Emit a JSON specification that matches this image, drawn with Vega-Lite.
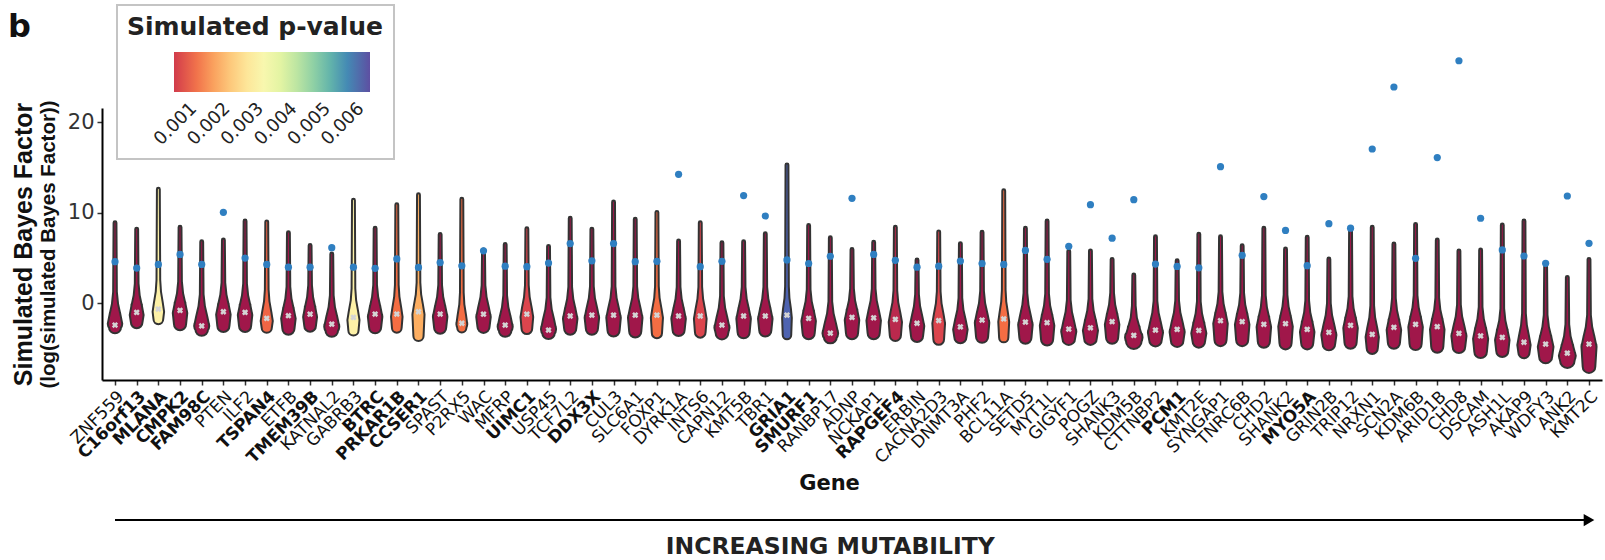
{
"$schema": "https://vega.github.io/schema/vega-lite/v6.json",
"width": 1500, "height": 272,
"autosize": {"type": "none"},
"padding": {"left": 102, "top": 108, "right": 3, "bottom": 180},
"background": "white",
"config": {"view": {"stroke": null}, "font": "Liberation Sans"},
"datasets": {
"genes": [
{"g":"ZNF559","p":0.00032,"m":-2.4,"o":4.6},{"g":"C16orf13","p":0.00032,"m":-1.0,"o":3.9},{"g":"MLANA","p":0.003,"m":-0.63,"o":4.3},{"g":"CMPK2","p":0.00032,"m":-0.78,"o":5.4},{"g":"FAM98C","p":0.00032,"m":-2.5,"o":4.3},{"g":"PTEN","p":0.00032,"m":-0.93,"o":10.05},{"g":"ILF2","p":0.00032,"m":-1.0,"o":5.0},{"g":"TSPAN4","p":0.0014,"m":-1.66,"o":4.3},{"g":"ETFB","p":0.00032,"m":-1.37,"o":4.0},{"g":"TMEM39B","p":0.00032,"m":-1.2,"o":4.0},{"g":"KATNAL2","p":0.00032,"m":-2.3,"o":6.15},{"g":"GABRB3","p":0.003,"m":-1.55,"o":4.0},{"g":"BTRC","p":0.00032,"m":-1.18,"o":3.87},{"g":"PRKAR1B","p":0.0015,"m":-1.18,"o":4.9},{"g":"CCSER1","p":0.0021,"m":-0.93,"o":3.97},{"g":"SPAST","p":0.00032,"m":-1.18,"o":4.5},{"g":"P2RX5","p":0.0015,"m":-2.2,"o":4.15},{"g":"WAC","p":0.00032,"m":-1.2,"o":5.8},{"g":"MFRP","p":0.00032,"m":-2.4,"o":4.1},{"g":"UIMC1","p":0.001,"m":-1.2,"o":4.05},{"g":"USP45","p":0.00032,"m":-2.95,"o":4.45},{"g":"TCF7L2","p":0.00032,"m":-1.4,"o":6.6},{"g":"DDX3X","p":0.00032,"m":-1.3,"o":4.7},{"g":"CUL3","p":0.00032,"m":-1.3,"o":6.6},{"g":"SLC6A1","p":0.00032,"m":-1.3,"o":4.6},{"g":"FOXP1","p":0.0015,"m":-1.3,"o":4.64},{"g":"DYRK1A","p":0.00032,"m":-1.4,"o":14.25},{"g":"INTS6","p":0.001,"m":-1.4,"o":4.05},{"g":"CAPN12","p":0.00032,"m":-2.4,"o":4.64},{"g":"KMT5B","p":0.00032,"m":-1.4,"o":11.9},{"g":"TBR1","p":0.00032,"m":-1.4,"o":9.65},{"g":"GRIA1","p":0.006,"m":-1.3,"o":4.8},{"g":"SMURF1","p":0.00032,"m":-1.66,"o":4.4},{"g":"RANBP17","p":0.00032,"m":-3.3,"o":5.2},{"g":"ADNP","p":0.00032,"m":-1.55,"o":11.6},{"g":"NCKAP1","p":0.00032,"m":-1.6,"o":5.4},{"g":"RAPGEF4","p":0.0006,"m":-1.77,"o":4.75},{"g":"ERBIN","p":0.00032,"m":-2.2,"o":4.0},{"g":"CACNA2D3","p":0.001,"m":-1.9,"o":4.1},{"g":"DNMT3A","p":0.00032,"m":-2.6,"o":4.67},{"g":"PHF2","p":0.00032,"m":-1.85,"o":4.4},{"g":"BCL11A","p":0.0015,"m":-1.73,"o":4.3},{"g":"SETD5","p":0.00032,"m":-2.07,"o":5.85},{"g":"MYT1L","p":0.00032,"m":-2.14,"o":4.86},{"g":"GIGYF1","p":0.00032,"m":-2.84,"o":6.3},{"g":"POGZ","p":0.00032,"m":-2.7,"o":10.9},{"g":"SHANK3","p":0.00032,"m":-2.03,"o":7.2},{"g":"KDM5B","p":0.00032,"m":-3.54,"o":11.45},{"g":"CTTNBP2","p":0.00032,"m":-2.95,"o":4.34},{"g":"PCM1","p":0.00032,"m":-2.88,"o":4.08},{"g":"KMT2E","p":0.00032,"m":-3.0,"o":3.92},{"g":"SYNGAP1","p":0.00032,"m":-1.92,"o":15.1},{"g":"TNRC6B","p":0.00032,"m":-2.03,"o":5.3},{"g":"CHD2","p":0.00032,"m":-2.32,"o":11.8},{"g":"SHANK2","p":0.00032,"m":-2.25,"o":8.06},{"g":"MYO5A","p":0.00032,"m":-2.88,"o":4.16},{"g":"GRIN2B","p":0.00032,"m":-3.2,"o":8.8},{"g":"TRIP12","p":0.00032,"m":-2.43,"o":8.3},{"g":"NRXN1","p":0.00032,"m":-3.43,"o":17.05},{"g":"SCN2A","p":0.00032,"m":-2.65,"o":23.9},{"g":"KDM6B","p":0.00032,"m":-2.32,"o":4.97},{"g":"ARID1B","p":0.00032,"m":-2.58,"o":16.1},{"g":"CHD8","p":0.00032,"m":-3.32,"o":26.8},{"g":"DSCAM","p":0.00032,"m":-3.6,"o":9.4},{"g":"ASH1L","p":0.00032,"m":-3.76,"o":5.9},{"g":"AKAP9","p":0.00032,"m":-4.3,"o":5.23},{"g":"WDFY3","p":0.00032,"m":-4.5,"o":4.42},{"g":"ANK2","p":0.00032,"m":-5.5,"o":11.86},{"g":"KMT2C","p":0.00032,"m":-4.5,"o":6.63}
],
"violins": [
{"g":"ZNF559","y":-2.65,"w":0.8},{"g":"ZNF559","y":-2.25,"w":1},{"g":"ZNF559","y":-1.25,"w":0.7},{"g":"ZNF559","y":-0.05,"w":0.3},{"g":"ZNF559","y":1.25,"w":0.1},{"g":"ZNF559","y":8.9,"w":0.03},
{"g":"C16orf13","y":-2.1,"w":0.76},{"g":"C16orf13","y":-1.3,"w":0.95},{"g":"C16orf13","y":-0.3,"w":0.67},{"g":"C16orf13","y":0.9,"w":0.29},{"g":"C16orf13","y":2.2,"w":0.1},{"g":"C16orf13","y":8.2,"w":0.03},
{"g":"MLANA","y":-1.77,"w":0.6},{"g":"MLANA","y":-0.93,"w":0.75},{"g":"MLANA","y":0.07,"w":0.53},{"g":"MLANA","y":1.27,"w":0.23},{"g":"MLANA","y":2.57,"w":0.1},{"g":"MLANA","y":12.6,"w":0.03},
{"g":"CMPK2","y":-2.3,"w":0.8},{"g":"CMPK2","y":-1.08,"w":1},{"g":"CMPK2","y":-0.08,"w":0.7},{"g":"CMPK2","y":1.12,"w":0.3},{"g":"CMPK2","y":2.42,"w":0.1},{"g":"CMPK2","y":8.4,"w":0.03},
{"g":"FAM98C","y":-2.9,"w":0.84},{"g":"FAM98C","y":-2.5,"w":1.05},{"g":"FAM98C","y":-1.5,"w":0.74},{"g":"FAM98C","y":-0.3,"w":0.32},{"g":"FAM98C","y":1.0,"w":0.1},{"g":"FAM98C","y":6.8,"w":0.03},
{"g":"PTEN","y":-2.5,"w":0.8},{"g":"PTEN","y":-1.23,"w":1},{"g":"PTEN","y":-0.23,"w":0.7},{"g":"PTEN","y":0.97,"w":0.3},{"g":"PTEN","y":2.27,"w":0.1},{"g":"PTEN","y":7.0,"w":0.03},
{"g":"ILF2","y":-2.5,"w":0.8},{"g":"ILF2","y":-1.3,"w":1},{"g":"ILF2","y":-0.3,"w":0.7},{"g":"ILF2","y":0.9,"w":0.3},{"g":"ILF2","y":2.2,"w":0.1},{"g":"ILF2","y":9.1,"w":0.03},
{"g":"TSPAN4","y":-2.7,"w":0.64},{"g":"TSPAN4","y":-1.96,"w":0.8},{"g":"TSPAN4","y":-0.96,"w":0.56},{"g":"TSPAN4","y":0.24,"w":0.24},{"g":"TSPAN4","y":1.54,"w":0.1},{"g":"TSPAN4","y":9.0,"w":0.03},
{"g":"ETFB","y":-2.8,"w":0.8},{"g":"ETFB","y":-1.67,"w":1},{"g":"ETFB","y":-0.67,"w":0.7},{"g":"ETFB","y":0.53,"w":0.3},{"g":"ETFB","y":1.83,"w":0.1},{"g":"ETFB","y":7.8,"w":0.03},
{"g":"TMEM39B","y":-2.5,"w":0.76},{"g":"TMEM39B","y":-1.5,"w":0.95},{"g":"TMEM39B","y":-0.5,"w":0.67},{"g":"TMEM39B","y":0.7,"w":0.29},{"g":"TMEM39B","y":2.0,"w":0.1},{"g":"TMEM39B","y":6.4,"w":0.03},
{"g":"KATNAL2","y":-3.0,"w":0.84},{"g":"KATNAL2","y":-2.6,"w":1.05},{"g":"KATNAL2","y":-1.6,"w":0.74},{"g":"KATNAL2","y":-0.4,"w":0.32},{"g":"KATNAL2","y":0.9,"w":0.1},{"g":"KATNAL2","y":5.45,"w":0.03},
{"g":"GABRB3","y":-3.0,"w":0.64},{"g":"GABRB3","y":-1.85,"w":0.8},{"g":"GABRB3","y":-0.85,"w":0.56},{"g":"GABRB3","y":0.35,"w":0.24},{"g":"GABRB3","y":1.65,"w":0.1},{"g":"GABRB3","y":11.4,"w":0.03},
{"g":"BTRC","y":-2.65,"w":0.8},{"g":"BTRC","y":-1.48,"w":1},{"g":"BTRC","y":-0.48,"w":0.7},{"g":"BTRC","y":0.72,"w":0.3},{"g":"BTRC","y":2.02,"w":0.1},{"g":"BTRC","y":8.3,"w":0.03},
{"g":"PRKAR1B","y":-2.7,"w":0.6},{"g":"PRKAR1B","y":-1.48,"w":0.75},{"g":"PRKAR1B","y":-0.48,"w":0.53},{"g":"PRKAR1B","y":0.72,"w":0.23},{"g":"PRKAR1B","y":2.02,"w":0.1},{"g":"PRKAR1B","y":10.9,"w":0.03},
{"g":"CCSER1","y":-3.6,"w":0.64},{"g":"CCSER1","y":-1.23,"w":0.8},{"g":"CCSER1","y":-0.23,"w":0.56},{"g":"CCSER1","y":0.97,"w":0.24},{"g":"CCSER1","y":2.27,"w":0.1},{"g":"CCSER1","y":12.0,"w":0.03},
{"g":"SPAST","y":-2.7,"w":0.8},{"g":"SPAST","y":-1.48,"w":1},{"g":"SPAST","y":-0.48,"w":0.7},{"g":"SPAST","y":0.72,"w":0.3},{"g":"SPAST","y":2.02,"w":0.1},{"g":"SPAST","y":7.6,"w":0.03},
{"g":"P2RX5","y":-2.7,"w":0.56},{"g":"P2RX5","y":-2.3,"w":0.7},{"g":"P2RX5","y":-1.3,"w":0.49},{"g":"P2RX5","y":-0.1,"w":0.21},{"g":"P2RX5","y":1.2,"w":0.1},{"g":"P2RX5","y":11.5,"w":0.03},
{"g":"WAC","y":-2.6,"w":0.8},{"g":"WAC","y":-1.5,"w":1},{"g":"WAC","y":-0.5,"w":0.7},{"g":"WAC","y":0.7,"w":0.3},{"g":"WAC","y":2.0,"w":0.1},{"g":"WAC","y":5.9,"w":0.03},
{"g":"MFRP","y":-3.0,"w":0.84},{"g":"MFRP","y":-2.6,"w":1.05},{"g":"MFRP","y":-1.6,"w":0.74},{"g":"MFRP","y":-0.4,"w":0.32},{"g":"MFRP","y":0.9,"w":0.1},{"g":"MFRP","y":6.5,"w":0.03},
{"g":"UIMC1","y":-2.8,"w":0.68},{"g":"UIMC1","y":-1.5,"w":0.85},{"g":"UIMC1","y":-0.5,"w":0.6},{"g":"UIMC1","y":0.7,"w":0.26},{"g":"UIMC1","y":2.0,"w":0.1},{"g":"UIMC1","y":8.25,"w":0.03},
{"g":"USP45","y":-3.25,"w":0.84},{"g":"USP45","y":-2.85,"w":1.05},{"g":"USP45","y":-1.85,"w":0.74},{"g":"USP45","y":-0.65,"w":0.32},{"g":"USP45","y":0.65,"w":0.1},{"g":"USP45","y":6.3,"w":0.03},
{"g":"TCF7L2","y":-2.8,"w":0.8},{"g":"TCF7L2","y":-1.7,"w":1},{"g":"TCF7L2","y":-0.7,"w":0.7},{"g":"TCF7L2","y":0.5,"w":0.3},{"g":"TCF7L2","y":1.8,"w":0.1},{"g":"TCF7L2","y":9.4,"w":0.03},
{"g":"DDX3X","y":-2.8,"w":0.8},{"g":"DDX3X","y":-1.6,"w":1},{"g":"DDX3X","y":-0.6,"w":0.7},{"g":"DDX3X","y":0.6,"w":0.3},{"g":"DDX3X","y":1.9,"w":0.1},{"g":"DDX3X","y":8.2,"w":0.03},
{"g":"CUL3","y":-3.0,"w":0.8},{"g":"CUL3","y":-1.6,"w":1},{"g":"CUL3","y":-0.6,"w":0.7},{"g":"CUL3","y":0.6,"w":0.3},{"g":"CUL3","y":1.9,"w":0.1},{"g":"CUL3","y":11.2,"w":0.03},
{"g":"SLC6A1","y":-3.1,"w":0.8},{"g":"SLC6A1","y":-1.6,"w":1},{"g":"SLC6A1","y":-0.6,"w":0.7},{"g":"SLC6A1","y":0.6,"w":0.3},{"g":"SLC6A1","y":1.9,"w":0.1},{"g":"SLC6A1","y":9.3,"w":0.03},
{"g":"FOXP1","y":-3.3,"w":0.64},{"g":"FOXP1","y":-1.6,"w":0.8},{"g":"FOXP1","y":-0.6,"w":0.56},{"g":"FOXP1","y":0.6,"w":0.24},{"g":"FOXP1","y":1.9,"w":0.1},{"g":"FOXP1","y":10.05,"w":0.03},
{"g":"DYRK1A","y":-2.95,"w":0.8},{"g":"DYRK1A","y":-1.7,"w":1},{"g":"DYRK1A","y":-0.7,"w":0.7},{"g":"DYRK1A","y":0.5,"w":0.3},{"g":"DYRK1A","y":1.8,"w":0.1},{"g":"DYRK1A","y":6.9,"w":0.03},
{"g":"INTS6","y":-3.2,"w":0.68},{"g":"INTS6","y":-1.7,"w":0.85},{"g":"INTS6","y":-0.7,"w":0.6},{"g":"INTS6","y":0.5,"w":0.26},{"g":"INTS6","y":1.8,"w":0.1},{"g":"INTS6","y":8.9,"w":0.03},
{"g":"CAPN12","y":-3.3,"w":0.84},{"g":"CAPN12","y":-2.7,"w":1.05},{"g":"CAPN12","y":-1.7,"w":0.74},{"g":"CAPN12","y":-0.5,"w":0.32},{"g":"CAPN12","y":0.8,"w":0.1},{"g":"CAPN12","y":6.7,"w":0.03},
{"g":"KMT5B","y":-3.2,"w":0.8},{"g":"KMT5B","y":-1.7,"w":1},{"g":"KMT5B","y":-0.7,"w":0.7},{"g":"KMT5B","y":0.5,"w":0.3},{"g":"KMT5B","y":1.8,"w":0.1},{"g":"KMT5B","y":6.8,"w":0.03},
{"g":"TBR1","y":-3.0,"w":0.8},{"g":"TBR1","y":-1.7,"w":1},{"g":"TBR1","y":-0.7,"w":0.7},{"g":"TBR1","y":0.5,"w":0.3},{"g":"TBR1","y":1.8,"w":0.1},{"g":"TBR1","y":7.7,"w":0.03},
{"g":"GRIA1","y":-3.5,"w":0.5},{"g":"GRIA1","y":-1.6,"w":0.6},{"g":"GRIA1","y":-0.6,"w":0.45},{"g":"GRIA1","y":0.6,"w":0.2},{"g":"GRIA1","y":1.9,"w":0.1},{"g":"GRIA1","y":15.3,"w":0.03},
{"g":"SMURF1","y":-3.3,"w":0.8},{"g":"SMURF1","y":-1.96,"w":1},{"g":"SMURF1","y":-0.96,"w":0.7},{"g":"SMURF1","y":0.24,"w":0.3},{"g":"SMURF1","y":1.54,"w":0.1},{"g":"SMURF1","y":8.6,"w":0.03},
{"g":"RANBP17","y":-3.7,"w":0.88},{"g":"RANBP17","y":-3.3,"w":1.1},{"g":"RANBP17","y":-2.3,"w":0.77},{"g":"RANBP17","y":-1.1,"w":0.33},{"g":"RANBP17","y":0.2,"w":0.1},{"g":"RANBP17","y":7.25,"w":0.03},
{"g":"ADNP","y":-3.3,"w":0.8},{"g":"ADNP","y":-1.85,"w":1},{"g":"ADNP","y":-0.85,"w":0.7},{"g":"ADNP","y":0.35,"w":0.3},{"g":"ADNP","y":1.65,"w":0.1},{"g":"ADNP","y":5.95,"w":0.03},
{"g":"NCKAP1","y":-3.3,"w":0.8},{"g":"NCKAP1","y":-1.9,"w":1},{"g":"NCKAP1","y":-0.9,"w":0.7},{"g":"NCKAP1","y":0.3,"w":0.3},{"g":"NCKAP1","y":1.6,"w":0.1},{"g":"NCKAP1","y":6.75,"w":0.03},
{"g":"RAPGEF4","y":-3.55,"w":0.72},{"g":"RAPGEF4","y":-2.07,"w":0.9},{"g":"RAPGEF4","y":-1.07,"w":0.63},{"g":"RAPGEF4","y":0.13,"w":0.27},{"g":"RAPGEF4","y":1.43,"w":0.1},{"g":"RAPGEF4","y":8.4,"w":0.03},
{"g":"ERBIN","y":-3.6,"w":0.8},{"g":"ERBIN","y":-2.5,"w":1},{"g":"ERBIN","y":-1.5,"w":0.7},{"g":"ERBIN","y":-0.3,"w":0.3},{"g":"ERBIN","y":1.0,"w":0.1},{"g":"ERBIN","y":4.8,"w":0.03},
{"g":"CACNA2D3","y":-4.0,"w":0.68},{"g":"CACNA2D3","y":-2.2,"w":0.85},{"g":"CACNA2D3","y":-1.2,"w":0.6},{"g":"CACNA2D3","y":0.0,"w":0.26},{"g":"CACNA2D3","y":1.3,"w":0.1},{"g":"CACNA2D3","y":7.9,"w":0.03},
{"g":"DNMT3A","y":-3.75,"w":0.8},{"g":"DNMT3A","y":-2.9,"w":1},{"g":"DNMT3A","y":-1.9,"w":0.7},{"g":"DNMT3A","y":-0.7,"w":0.3},{"g":"DNMT3A","y":0.6,"w":0.1},{"g":"DNMT3A","y":6.6,"w":0.03},
{"g":"PHF2","y":-3.7,"w":0.8},{"g":"PHF2","y":-2.15,"w":1},{"g":"PHF2","y":-1.15,"w":0.7},{"g":"PHF2","y":0.05,"w":0.3},{"g":"PHF2","y":1.35,"w":0.1},{"g":"PHF2","y":7.85,"w":0.03},
{"g":"BCL11A","y":-3.8,"w":0.56},{"g":"BCL11A","y":-2.03,"w":0.7},{"g":"BCL11A","y":-1.03,"w":0.49},{"g":"BCL11A","y":0.17,"w":0.21},{"g":"BCL11A","y":1.47,"w":0.1},{"g":"BCL11A","y":12.45,"w":0.03},
{"g":"SETD5","y":-3.8,"w":0.8},{"g":"SETD5","y":-2.37,"w":1},{"g":"SETD5","y":-1.37,"w":0.7},{"g":"SETD5","y":-0.17,"w":0.3},{"g":"SETD5","y":1.13,"w":0.1},{"g":"SETD5","y":8.3,"w":0.03},
{"g":"MYT1L","y":-4.0,"w":0.8},{"g":"MYT1L","y":-2.44,"w":1},{"g":"MYT1L","y":-1.44,"w":0.7},{"g":"MYT1L","y":-0.24,"w":0.3},{"g":"MYT1L","y":1.06,"w":0.1},{"g":"MYT1L","y":9.1,"w":0.03},
{"g":"GIGYF1","y":-3.9,"w":0.84},{"g":"GIGYF1","y":-3.14,"w":1.05},{"g":"GIGYF1","y":-2.14,"w":0.74},{"g":"GIGYF1","y":-0.94,"w":0.32},{"g":"GIGYF1","y":0.36,"w":0.1},{"g":"GIGYF1","y":5.75,"w":0.03},
{"g":"POGZ","y":-3.9,"w":0.84},{"g":"POGZ","y":-3.0,"w":1.05},{"g":"POGZ","y":-2.0,"w":0.74},{"g":"POGZ","y":-0.8,"w":0.32},{"g":"POGZ","y":0.5,"w":0.1},{"g":"POGZ","y":5.8,"w":0.03},
{"g":"SHANK3","y":-3.8,"w":0.8},{"g":"SHANK3","y":-2.33,"w":1},{"g":"SHANK3","y":-1.33,"w":0.7},{"g":"SHANK3","y":-0.13,"w":0.3},{"g":"SHANK3","y":1.17,"w":0.1},{"g":"SHANK3","y":4.86,"w":0.03},
{"g":"KDM5B","y":-4.17,"w":1.1},{"g":"KDM5B","y":-3.77,"w":1.25},{"g":"KDM5B","y":-2.77,"w":0.8},{"g":"KDM5B","y":-1.57,"w":0.3},{"g":"KDM5B","y":-0.27,"w":0.1},{"g":"KDM5B","y":3.13,"w":0.03},
{"g":"CTTNBP2","y":-4.06,"w":0.84},{"g":"CTTNBP2","y":-3.25,"w":1.05},{"g":"CTTNBP2","y":-2.25,"w":0.74},{"g":"CTTNBP2","y":-1.05,"w":0.32},{"g":"CTTNBP2","y":0.25,"w":0.1},{"g":"CTTNBP2","y":7.36,"w":0.03},
{"g":"PCM1","y":-4.13,"w":0.84},{"g":"PCM1","y":-3.18,"w":1.05},{"g":"PCM1","y":-2.18,"w":0.74},{"g":"PCM1","y":-0.98,"w":0.32},{"g":"PCM1","y":0.32,"w":0.1},{"g":"PCM1","y":4.7,"w":0.03},
{"g":"KMT2E","y":-4.2,"w":0.84},{"g":"KMT2E","y":-3.3,"w":1.05},{"g":"KMT2E","y":-2.3,"w":0.74},{"g":"KMT2E","y":-1.1,"w":0.32},{"g":"KMT2E","y":0.2,"w":0.1},{"g":"KMT2E","y":7.65,"w":0.03},
{"g":"SYNGAP1","y":-4.06,"w":0.8},{"g":"SYNGAP1","y":-2.22,"w":1},{"g":"SYNGAP1","y":-1.22,"w":0.7},{"g":"SYNGAP1","y":-0.02,"w":0.3},{"g":"SYNGAP1","y":1.28,"w":0.1},{"g":"SYNGAP1","y":7.36,"w":0.03},
{"g":"TNRC6B","y":-4.06,"w":0.8},{"g":"TNRC6B","y":-2.33,"w":1},{"g":"TNRC6B","y":-1.33,"w":0.7},{"g":"TNRC6B","y":-0.13,"w":0.3},{"g":"TNRC6B","y":1.17,"w":0.1},{"g":"TNRC6B","y":6.37,"w":0.03},
{"g":"CHD2","y":-4.24,"w":0.8},{"g":"CHD2","y":-2.62,"w":1},{"g":"CHD2","y":-1.62,"w":0.7},{"g":"CHD2","y":-0.42,"w":0.3},{"g":"CHD2","y":0.88,"w":0.1},{"g":"CHD2","y":8.3,"w":0.03},
{"g":"SHANK2","y":-4.42,"w":0.8},{"g":"SHANK2","y":-2.55,"w":1},{"g":"SHANK2","y":-1.55,"w":0.7},{"g":"SHANK2","y":-0.35,"w":0.3},{"g":"SHANK2","y":0.95,"w":0.1},{"g":"SHANK2","y":6.0,"w":0.03},
{"g":"MYO5A","y":-4.42,"w":0.8},{"g":"MYO5A","y":-3.18,"w":1},{"g":"MYO5A","y":-2.18,"w":0.7},{"g":"MYO5A","y":-0.98,"w":0.3},{"g":"MYO5A","y":0.32,"w":0.1},{"g":"MYO5A","y":7.3,"w":0.03},
{"g":"GRIN2B","y":-4.5,"w":0.84},{"g":"GRIN2B","y":-3.5,"w":1.05},{"g":"GRIN2B","y":-2.5,"w":0.74},{"g":"GRIN2B","y":-1.3,"w":0.32},{"g":"GRIN2B","y":0.0,"w":0.1},{"g":"GRIN2B","y":4.9,"w":0.03},
{"g":"TRIP12","y":-4.35,"w":0.8},{"g":"TRIP12","y":-2.73,"w":1},{"g":"TRIP12","y":-1.73,"w":0.7},{"g":"TRIP12","y":-0.53,"w":0.3},{"g":"TRIP12","y":0.77,"w":0.1},{"g":"TRIP12","y":8.17,"w":0.03},
{"g":"NRXN1","y":-4.97,"w":0.72},{"g":"NRXN1","y":-3.73,"w":0.9},{"g":"NRXN1","y":-2.73,"w":0.63},{"g":"NRXN1","y":-1.53,"w":0.27},{"g":"NRXN1","y":-0.23,"w":0.1},{"g":"NRXN1","y":8.4,"w":0.03},
{"g":"SCN2A","y":-4.35,"w":0.8},{"g":"SCN2A","y":-2.95,"w":1},{"g":"SCN2A","y":-1.95,"w":0.7},{"g":"SCN2A","y":-0.75,"w":0.3},{"g":"SCN2A","y":0.55,"w":0.1},{"g":"SCN2A","y":6.55,"w":0.03},
{"g":"KDM6B","y":-4.5,"w":0.8},{"g":"KDM6B","y":-2.62,"w":1},{"g":"KDM6B","y":-1.62,"w":0.7},{"g":"KDM6B","y":-0.42,"w":0.3},{"g":"KDM6B","y":0.88,"w":0.1},{"g":"KDM6B","y":8.73,"w":0.03},
{"g":"ARID1B","y":-4.8,"w":0.8},{"g":"ARID1B","y":-2.88,"w":1},{"g":"ARID1B","y":-1.88,"w":0.7},{"g":"ARID1B","y":-0.68,"w":0.3},{"g":"ARID1B","y":0.62,"w":0.1},{"g":"ARID1B","y":7.0,"w":0.03},
{"g":"CHD8","y":-4.8,"w":0.84},{"g":"CHD8","y":-3.62,"w":1.05},{"g":"CHD8","y":-2.62,"w":0.74},{"g":"CHD8","y":-1.42,"w":0.32},{"g":"CHD8","y":-0.12,"w":0.1},{"g":"CHD8","y":5.8,"w":0.03},
{"g":"DSCAM","y":-5.35,"w":0.84},{"g":"DSCAM","y":-3.9,"w":1.05},{"g":"DSCAM","y":-2.9,"w":0.74},{"g":"DSCAM","y":-1.7,"w":0.32},{"g":"DSCAM","y":-0.4,"w":0.1},{"g":"DSCAM","y":5.9,"w":0.03},
{"g":"ASH1L","y":-5.27,"w":0.8},{"g":"ASH1L","y":-4.06,"w":1},{"g":"ASH1L","y":-3.06,"w":0.7},{"g":"ASH1L","y":-1.86,"w":0.3},{"g":"ASH1L","y":-0.56,"w":0.1},{"g":"ASH1L","y":8.65,"w":0.03},
{"g":"AKAP9","y":-5.45,"w":0.72},{"g":"AKAP9","y":-4.6,"w":0.9},{"g":"AKAP9","y":-3.6,"w":0.63},{"g":"AKAP9","y":-2.4,"w":0.27},{"g":"AKAP9","y":-1.1,"w":0.1},{"g":"AKAP9","y":9.1,"w":0.03},
{"g":"WDFY3","y":-5.9,"w":0.88},{"g":"WDFY3","y":-4.8,"w":1.1},{"g":"WDFY3","y":-3.8,"w":0.77},{"g":"WDFY3","y":-2.6,"w":0.33},{"g":"WDFY3","y":-1.3,"w":0.1},{"g":"WDFY3","y":4.05,"w":0.03},
{"g":"ANK2","y":-6.34,"w":1.0},{"g":"ANK2","y":-5.8,"w":1.2},{"g":"ANK2","y":-4.8,"w":0.8},{"g":"ANK2","y":-3.6,"w":0.33},{"g":"ANK2","y":-2.3,"w":0.1},{"g":"ANK2","y":2.87,"w":0.03},
{"g":"KMT2C","y":-7.0,"w":0.84},{"g":"KMT2C","y":-4.8,"w":1.05},{"g":"KMT2C","y":-3.8,"w":0.74},{"g":"KMT2C","y":-2.6,"w":0.32},{"g":"KMT2C","y":-1.3,"w":0.1},{"g":"KMT2C","y":4.86,"w":0.03}
]
},
"encoding": {
"x": {"field": "g", "type": "nominal", "title": "Gene",
"scale": {"type": "point", "padding": 0.6, "domain": ["ZNF559","C16orf13","MLANA","CMPK2","FAM98C","PTEN","ILF2","TSPAN4","ETFB","TMEM39B","KATNAL2","GABRB3","BTRC","PRKAR1B","CCSER1","SPAST","P2RX5","WAC","MFRP","UIMC1","USP45","TCF7L2","DDX3X","CUL3","SLC6A1","FOXP1","DYRK1A","INTS6","CAPN12","KMT5B","TBR1","GRIA1","SMURF1","RANBP17","ADNP","NCKAP1","RAPGEF4","ERBIN","CACNA2D3","DNMT3A","PHF2","BCL11A","SETD5","MYT1L","GIGYF1","POGZ","SHANK3","KDM5B","CTTNBP2","PCM1","KMT2E","SYNGAP1","TNRC6B","CHD2","SHANK2","MYO5A","GRIN2B","TRIP12","NRXN1","SCN2A","KDM6B","ARID1B","CHD8","DSCAM","ASH1L","AKAP9","WDFY3","ANK2","KMT2C"]},
"axis": {"labelAngle": -45, "labelAlign": "right", "labelBaseline": "top", "labelFont": "DejaVu Sans", "labelFontSize": 17, "labelColor": "#111111", "labelPadding": 3, "labelDx": 7, "labelDy": 7, "labelOverlap": false, "labelLimit": 300,
"labelFontWeight": {"condition": {"test": "indexof(['C16orf13','MLANA','CMPK2','FAM98C','TSPAN4','TMEM39B','BTRC','PRKAR1B','CCSER1','UIMC1','DDX3X','GRIA1','SMURF1','RAPGEF4','PCM1','MYO5A'], datum.value) >= 0", "value": "bold"}, "value": "normal"},
"domainColor": "#000000", "domainWidth": 2, "tickColor": "#333333", "tickSize": 5, "tickWidth": 1.5, "grid": false,
"titleFont": "DejaVu Sans", "titleFontSize": 21, "titleFontWeight": "bold", "titleColor": "#111111", "titleX": 727, "titleY": 109, "titleBaseline": "alphabetic"}}
},
"resolve": {"scale": {"y": "independent"}},
"layer": [
{
"resolve": {"scale": {"size": "independent", "color": "independent"}},
"layer": [
{"data": {"name": "violins"},
"mark": {"type": "trail", "color": "#333333"},
"encoding": {
"y": {"field": "y", "type": "quantitative", "scale": {"domain": [-8.47, 21.58], "nice": false, "zero": false},
"axis": {"values": [0, 10, 20], "title": "(log(simulated Bayes Factor))", "titleFont": "Liberation Sans", "titleFontSize": 20.5, "titleFontWeight": "bold", "titleColor": "#111111", "titlePadding": 9,
"labelFont": "DejaVu Sans", "labelFontSize": 21, "labelColor": "#333333", "labelPadding": 3, "domainColor": "#000000", "domainWidth": 2, "tickColor": "#333333", "tickSize": 5, "tickWidth": 1.5, "grid": false}},
"size": {"field": "w", "type": "quantitative", "scale": {"domain": [0, 1], "range": [4.5, 16.5]}, "legend": null},
"detail": {"field": "g"},
"order": {"field": "y", "type": "quantitative"}}},
{"data": {"name": "violins"},
"transform": [{"lookup": "g", "from": {"data": {"name": "genes"}, "key": "g", "fields": ["p"]}}],
"mark": {"type": "trail"},
"encoding": {
"y": {"field": "y", "type": "quantitative", "axis": {"title": "(log(simulated Bayes Factor))"}},
"size": {"field": "w", "type": "quantitative", "scale": {"domain": [0, 1], "range": [0.5, 12.5]}, "legend": null},
"detail": {"field": "g"},
"order": {"field": "y", "type": "quantitative"},
"color": {"field": "p", "type": "quantitative", "legend": null,
"scale": {"domain": [0.00032, 0.00091, 0.0015, 0.0021, 0.0027, 0.00325, 0.0038, 0.0044, 0.005, 0.0056, 0.00618], "range": ["#a0174a", "#d53e4f", "#f46d43", "#fdae61", "#fee08b", "#ffffbf", "#e6f598", "#abdda4", "#66c2a5", "#3288bd", "#5e4fa2"]}}}},
{"data": {"name": "genes"},
"mark": {"type": "trail"},
"encoding": {
"y": {"field": "o", "type": "quantitative", "axis": {"title": "(log(simulated Bayes Factor))"}},
"size": {"value": 0},
"detail": {"field": "g"},
"color": {"field": "p", "type": "quantitative",
"scale": {"scheme": {"name": "spectral", "extent": [0.1, 1]}, "domain": [0.00032, 0.00618]},
"legend": {"title": "Simulated p-value", "orient": "none", "legendX": 15, "legendY": -103, "direction": "horizontal", "gradientLength": 196, "gradientThickness": 40,
"values": [0.001, 0.002, 0.003, 0.004, 0.005, 0.006], "format": ".3f", "labelOverlap": false,
"titleFont": "DejaVu Sans", "titleFontSize": 25, "titleFontWeight": "bold", "titleColor": "#222222", "titleAnchor": "middle", "titlePadding": 12, "titleLimit": 500,
"labelFont": "DejaVu Sans", "labelFontSize": 18, "labelColor": "#222222", "labelOffset": 14, "labelLimit": 200,
"padding": 10, "strokeColor": "#c4c4c4", "fillColor": "white",
"encode": {"legend": {"update": {"strokeWidth": {"value": 2}}},
"labels": {"update": {"angle": {"value": -45}, "align": {"value": "right"}, "baseline": {"value": "middle"}, "dx": {"value": 15}, "dy": {"value": 15}}},
"gradient": {"update": {"x": {"value": 24}}}}}}}},
{"data": {"name": "genes"},
"mark": {"type": "point", "shape": "cross", "angle": 45, "filled": true, "color": "#d4d4d4", "size": 40, "opacity": 1},
"encoding": {"y": {"field": "m", "type": "quantitative", "axis": {"title": "(log(simulated Bayes Factor))"}}}},
{"data": {"name": "genes"},
"mark": {"type": "circle", "color": "#2f7fc1", "size": 52, "opacity": 1},
"encoding": {"y": {"field": "o", "type": "quantitative", "axis": {"title": "(log(simulated Bayes Factor))"}}}}
]
},
{
"layer": [
{"data": {"values": [{"g": "ZNF559", "g2": "KMT2C", "v": -23.94}]},
"mark": {"type": "rule", "color": "#000000", "strokeWidth": 2},
"encoding": {
"x2": {"field": "g2"},
"y": {"field": "v", "type": "quantitative", "scale": {"domain": [-8.47, 21.58], "nice": false, "zero": false},
"axis": {"orient": "left", "title": "Simulated Bayes Factor", "titleFont": "Liberation Sans", "titleFontSize": 25, "titleFontWeight": "bold", "titleColor": "#111111", "titlePadding": 66, "labels": false, "ticks": false, "domain": false, "grid": false}}}},
{"data": {"values": [{"g": "KMT2C", "v": -23.94}]},
"mark": {"type": "point", "shape": "triangle-right", "filled": true, "color": "#000000", "size": 150, "opacity": 1},
"encoding": {"y": {"field": "v", "type": "quantitative", "axis": {"orient": "left", "title": "Simulated Bayes Factor"}}}},
{"data": {"values": [{"g": "RANBP17", "v": -26.9, "label": "INCREASING MUTABILITY"}]},
"mark": {"type": "text", "font": "DejaVu Sans", "fontSize": 23.5, "fontWeight": "bold", "color": "#222222", "align": "center", "baseline": "middle"},
"encoding": {"y": {"field": "v", "type": "quantitative", "axis": {"orient": "left", "title": "Simulated Bayes Factor"}}, "text": {"field": "label"}}},
{"data": {"values": [{"g": "ZNF559", "v": 29.43, "label": "b"}]},
"mark": {"type": "text", "font": "DejaVu Sans", "fontSize": 32, "fontWeight": "bold", "color": "#111111", "align": "left", "baseline": "alphabetic", "dx": -107},
"encoding": {"y": {"field": "v", "type": "quantitative", "axis": {"orient": "left", "title": "Simulated Bayes Factor"}}, "text": {"field": "label"}}}
]
}
]
}
